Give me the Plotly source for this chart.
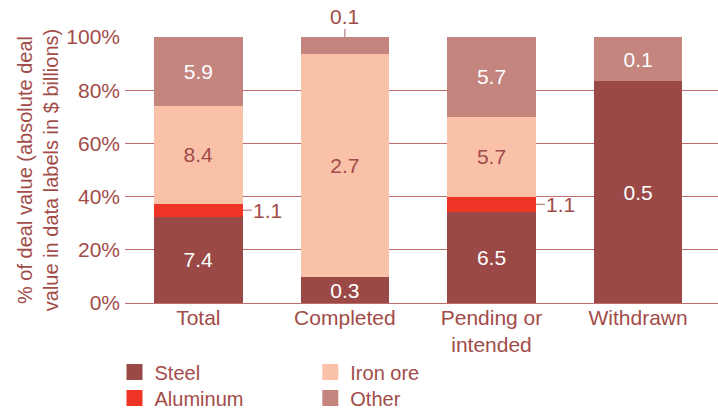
import plotly.graph_objects as go

# ---- data ----
categories = ["Total", "Completed", "Pending or<br>intended", "Withdrawn"]
series = ["Steel", "Aluminum", "Iron ore", "Other"]
# share of deal value (%) per category
steel_pct = [32.5, 9.7, 34.2, 83.3]
aluminum_pct = [4.8, 0.0, 5.8, 0.0]
iron_pct = [36.8, 83.9, 30.0, 0.0]
other_pct = [25.9, 6.4, 30.0, 16.7]
# absolute deal value ($ billions) shown as data labels
steel_val = [7.4, 0.3, 6.5, 0.5]
aluminum_val = [1.1, None, 1.1, None]
iron_val = [8.4, 2.7, 5.7, None]
other_val = [5.9, 0.1, 5.7, 0.1]
y_ticks = [0, 20, 40, 60, 80, 100]

# ---- style ----
FONT = "Liberation Sans, Arial, Helvetica, sans-serif"
TXT = "#A24C49"
GRID = "#BE6E6A"
C_STEEL = "#9B4947"
C_ALU = "#EE3424"
C_IRON = "#FAC1A9"
C_OTHER = "#C4857F"
FS = 21
FS_LEG = 20
BARGAP = 0.395
HALF = (1 - BARGAP) / 2

def lbl(vals, skip=()):
    return ["" if (v is None or i in skip) else f"{v:.1f}" for i, v in enumerate(vals)]

fig = go.Figure()
common = dict(marker_line_width=0, showlegend=False, insidetextanchor="middle",
              textposition="inside")
fig.add_bar(x=categories, y=steel_pct, name="Steel", marker_color=C_STEEL,
            text=lbl(steel_val), textfont=dict(color="white", size=FS, family=FONT), **common)
fig.add_bar(x=categories, y=aluminum_pct, name="Aluminum", marker_color=C_ALU,
            **common)
fig.add_bar(x=categories, y=iron_pct, name="Iron ore", marker_color=C_IRON,
            text=lbl(iron_val), textfont=dict(color=TXT, size=FS, family=FONT), **common)
fig.add_bar(x=categories, y=other_pct, name="Other", marker_color=C_OTHER,
            text=lbl(other_val, skip=(1,)), textfont=dict(color="white", size=FS, family=FONT),
            **common)

# legend entries (square swatches), one legend per entry for a 2x2 grid
leg_specs = [("Steel", C_STEEL, "legend"), ("Aluminum", C_ALU, "legend2"),
             ("Iron ore", C_IRON, "legend3"), ("Other", C_OTHER, "legend4")]
for name, col, leg in leg_specs:
    fig.add_scatter(x=[None], y=[None], mode="markers", name=name, legend=leg,
                    marker=dict(symbol="square", size=16, color=col), showlegend=True)

# outside labels for thin segments
for i, v in enumerate(aluminum_val):
    if v is not None:
        yc = steel_pct[i] + aluminum_pct[i] / 2
        fig.add_annotation(x=i + HALF, y=yc, text=f"{v:.1f}", showarrow=True,
                           arrowhead=0, arrowwidth=1, arrowcolor="#A06A66",
                           ax=25, ay=0, standoff=0,
                           font=dict(color=TXT, size=FS, family=FONT))
top = min(100.0, round(steel_pct[1] + aluminum_pct[1] + iron_pct[1] + other_pct[1], 6))
fig.add_annotation(x=1, y=top, text=f"{other_val[1]:.1f}", showarrow=True,
                   arrowhead=0, arrowwidth=1, arrowcolor="#A06A66",
                   ax=0, ay=-21, standoff=0,
                   font=dict(color=TXT, size=FS, family=FONT))

leg_common = dict(xanchor="left", yanchor="middle", bgcolor="rgba(0,0,0,0)",
                  font=dict(size=FS_LEG, color=TXT, family=FONT))
X1, X2 = -0.0177, 0.3125
Y1, Y2 = -0.259, -0.357
fig.update_layout(
    barmode="stack", bargap=BARGAP,
    width=718, height=410,
    margin=dict(l=124.5, r=0, t=37, b=107, autoexpand=False),
    paper_bgcolor="white", plot_bgcolor="white",
    font=dict(family=FONT, size=FS, color=TXT),
    uniformtext=dict(minsize=FS, mode="show"),
    legend=dict(x=X1, y=Y1, **leg_common),
    legend2=dict(x=X1, y=Y2, **leg_common),
    legend3=dict(x=X2, y=Y1, **leg_common),
    legend4=dict(x=X2, y=Y2, **leg_common),
)
fig.update_xaxes(range=[-0.5, 3.545], showline=False, showgrid=False, ticks="",
                 tickfont=dict(size=FS, color=TXT), fixedrange=True)
fig.update_yaxes(range=[0, 100], tickvals=y_ticks, ticktext=[f"{t}%" for t in y_ticks],
                 showgrid=True, gridcolor=GRID, gridwidth=1, zeroline=True,
                 zerolinecolor=GRID, zerolinewidth=1, ticks="", showline=False,
                 ticklabelstandoff=4,
                 tickfont=dict(size=FS, color=TXT),
                 title=dict(text="% of deal value (absolute deal<br>value in data labels in $ billions)",
                            font=dict(size=FS_LEG, color=TXT), standoff=2),
                 fixedrange=True)

fig.write_html("out.html")
